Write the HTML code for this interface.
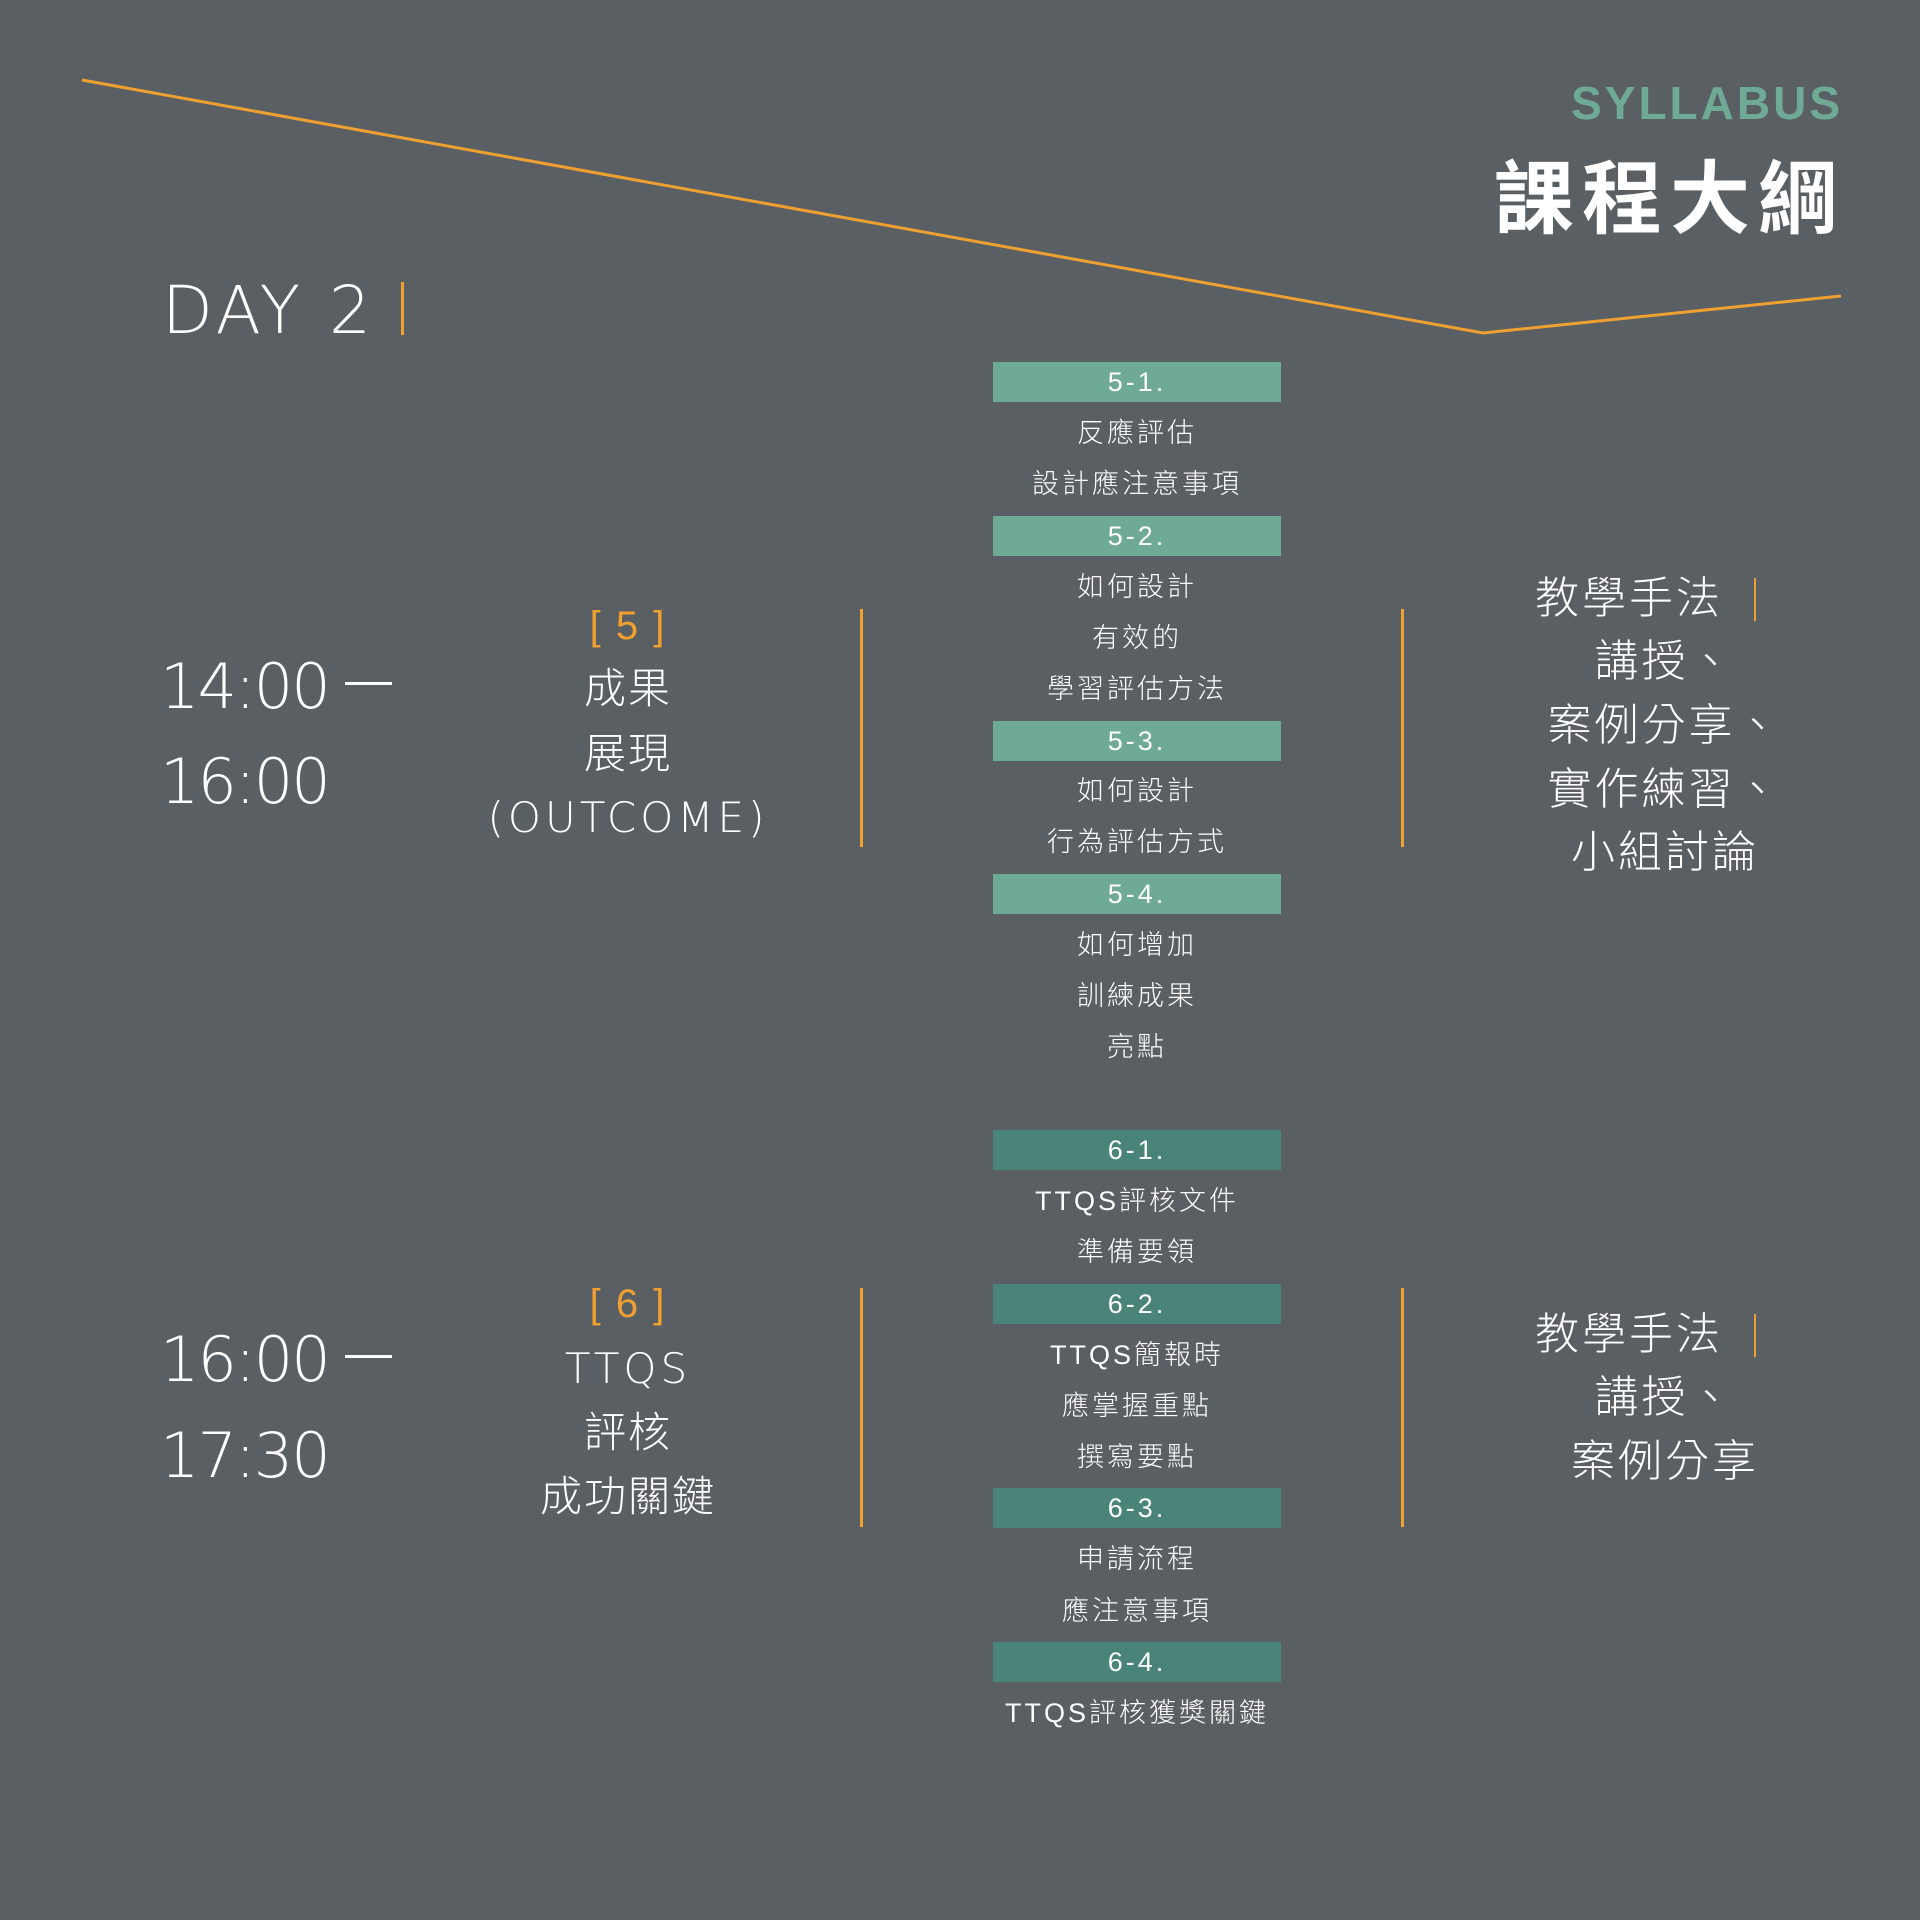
<!DOCTYPE html>
<html><head><meta charset="utf-8"><style>
*{margin:0;padding:0;box-sizing:border-box}
body{width:1920px;height:1920px;background:#5a5f63;position:relative;overflow:hidden;font-family:"Liberation Sans","Noto Sans CJK TC",sans-serif;color:#fff}
.t{position:absolute;white-space:nowrap;text-align:center}
.c{position:absolute;left:993px;width:288px;height:51px;line-height:51px;text-align:center;font-size:27px;letter-spacing:3px;font-family:"Liberation Sans","Noto Sans CJK TC",sans-serif;font-weight:300}
.g1{background:#6eaa96;height:40px;line-height:40px}
.g2{background:#4a8478;height:40px;line-height:40px}
.v{position:absolute;width:3px;background:#f0a030}
.m{left:528px;width:200px;font-size:42px;height:64px;line-height:64px;font-weight:300;letter-spacing:2px}
.r{font-size:44px;height:64px;line-height:64px;letter-spacing:3px;font-weight:300}
.tm{left:160px;font-size:62px;font-weight:200;font-family:"DejaVu Sans","Liberation Sans",sans-serif;height:60px;line-height:60px;text-align:left;letter-spacing:-2px}
.d{position:absolute;left:345px;width:47px;height:3px;background:#fff}
</style></head><body>
<svg width="1920" height="1920" style="position:absolute;left:0;top:0">
<polyline points="82,80 1483,333 1841,296" fill="none" stroke="#f0a030" stroke-width="3"/>
</svg>
<div class="t" style="left:1500px;width:343px;top:78px;font-size:46px;line-height:50px;color:#6eaa96;letter-spacing:3px;text-align:right;font-weight:bold">SYLLABUS</div>
<div class="t" style="left:1470px;width:376px;top:150px;font-size:80px;line-height:100px;font-weight:bold;letter-spacing:8px;text-align:right">課程大綱</div>
<div class="t" style="left:162px;top:278px;font-size:66px;line-height:66px;font-weight:200;font-family:'DejaVu Sans',sans-serif;letter-spacing:4px;text-align:left">DAY 2</div>
<div class="v" style="left:401px;top:282px;height:53px"></div>

<div class="t tm" style="top:657px">14:00</div><div class="d" style="top:682px"></div>
<div class="t tm" style="top:752px">16:00</div>
<div class="t tm" style="top:1330px">16:00</div><div class="d" style="top:1355px"></div>
<div class="t tm" style="top:1426px">17:30</div>

<div class="t m" style="top:594px;color:#f0a030;font-size:40px">[ 5 ]</div>
<div class="t m" style="top:657px">成果</div>
<div class="t m" style="top:722px">展現</div>
<div class="t m" style="top:786px;left:458px;width:340px;font-family:'DejaVu Sans',sans-serif;font-weight:200;letter-spacing:4px">(OUTCOME)</div>

<div class="t m" style="top:1272px;color:#f0a030;font-size:40px">[ 6 ]</div>
<div class="t m" style="top:1337px;font-family:'DejaVu Sans',sans-serif;font-weight:200;letter-spacing:4px">TTQS</div>
<div class="t m" style="top:1401px">評核</div>
<div class="t m" style="top:1465px;left:478px;width:300px">成功關鍵</div>

<div class="v" style="left:860px;top:609px;height:238px"></div>
<div class="v" style="left:1401px;top:609px;height:238px"></div>
<div class="v" style="left:860px;top:1288px;height:239px"></div>
<div class="v" style="left:1401px;top:1288px;height:239px"></div>

<div class="c g1" style="top:362px">5-1.</div>
<div class="c" style="top:408px">反應評估</div>
<div class="c" style="top:459px">設計應注意事項</div>
<div class="c g1" style="top:516px">5-2.</div>
<div class="c" style="top:562px">如何設計</div>
<div class="c" style="top:613px">有效的</div>
<div class="c" style="top:664px">學習評估方法</div>
<div class="c g1" style="top:721px">5-3.</div>
<div class="c" style="top:766px">如何設計</div>
<div class="c" style="top:817px">行為評估方式</div>
<div class="c g1" style="top:874px">5-4.</div>
<div class="c" style="top:920px">如何增加</div>
<div class="c" style="top:971px">訓練成果</div>
<div class="c" style="top:1022px">亮點</div>

<div class="c g2" style="top:1130px">6-1.</div>
<div class="c" style="top:1176px">TTQS評核文件</div>
<div class="c" style="top:1227px">準備要領</div>
<div class="c g2" style="top:1284px">6-2.</div>
<div class="c" style="top:1330px">TTQS簡報時</div>
<div class="c" style="top:1381px">應掌握重點</div>
<div class="c" style="top:1432px">撰寫要點</div>
<div class="c g2" style="top:1488px">6-3.</div>
<div class="c" style="top:1534px">申請流程</div>
<div class="c" style="top:1586px">應注意事項</div>
<div class="c g2" style="top:1642px">6-4.</div>
<div class="c" style="top:1688px;left:960px;width:354px">TTQS評核獲獎關鍵</div>

<div class="t r" style="left:1535px;top:567px;text-align:left">教學手法</div>
<div class="v" style="left:1754px;top:578px;height:43px;width:2px"></div>
<div class="t r" style="left:1465px;width:400px;top:630px">講授、</div>
<div class="t r" style="left:1465px;width:400px;top:694px">案例分享、</div>
<div class="t r" style="left:1465px;width:400px;top:758px">實作練習、</div>
<div class="t r" style="left:1465px;width:400px;top:821px">小組討論</div>

<div class="t r" style="left:1535px;top:1303px;text-align:left">教學手法</div>
<div class="v" style="left:1754px;top:1314px;height:43px;width:2px"></div>
<div class="t r" style="left:1465px;width:400px;top:1366px">講授、</div>
<div class="t r" style="left:1465px;width:400px;top:1430px">案例分享</div>
</body></html>
